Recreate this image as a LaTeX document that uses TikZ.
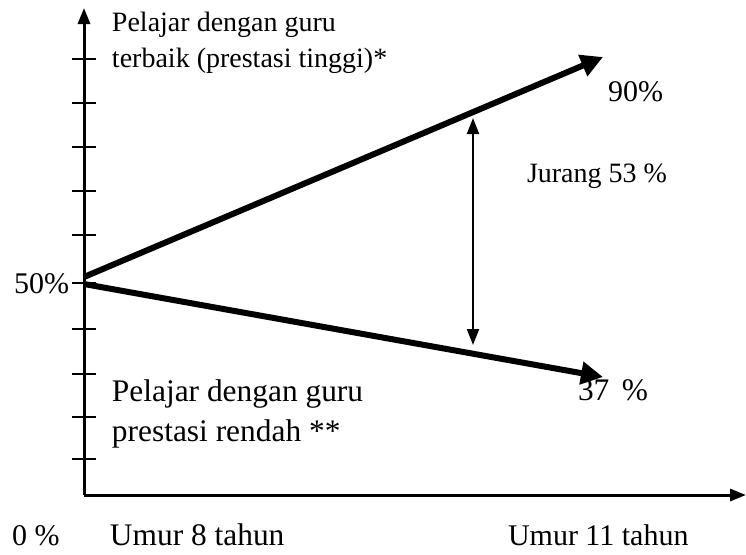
\documentclass[tikz,border=0pt]{standalone}
\usepackage{fontspec}
\setmainfont{Liberation Serif}
\usetikzlibrary{arrows.meta}
\begin{document}
\begin{tikzpicture}[x=0.5pt,y=-0.5pt,
  lbl/.style={inner sep=0pt,outer sep=0pt,font=\fontsize{15}{18}\selectfont},
  small/.style={font=\fontsize{14}{17}\selectfont},
  large/.style={font=\fontsize{15.7}{19}\selectfont},
  axis/.style={line width=1.5pt,-{Triangle[length=8pt,width=6pt]}},
  tick/.style={line width=1pt},
  trend/.style={line width=3pt,-{Triangle[length=11pt,width=11pt]}},
  gap/.style={line width=1pt,{Triangle[length=8pt,width=6pt]}-{Triangle[length=8pt,width=6pt]}}]
\useasboundingbox (0,0) rectangle (746,554);
% axes
\coordinate (O) at (84,495);
\coordinate (ytop) at (84,8);
\coordinate (xend) at (746,495);
\draw[axis] (O) -- (ytop);
\draw[axis] (O) -- (xend);
% ticks on the vertical axis
\foreach \ty in {59,103,147,191,235,283,329,374,417,459}
  \draw[tick] (72,\ty) -- (96,\ty);
% trend lines
\coordinate (hs) at (84,277);
\coordinate (he) at (603,57);
\coordinate (ls) at (84,284);
\coordinate (le) at (603,377);
\draw[trend] (hs) -- (he);
\draw[trend] (ls) -- (le);
% gap arrow
\coordinate (ga) at (473,118);
\coordinate (gb) at (473,345);
\draw[gap] (ga) -- (gb);
% labels
\node[lbl,small,anchor=base west] (t1) at (112,31) {Pelajar dengan guru};
\node[lbl,small,anchor=base west] (t2) at (112,67) {terbaik (prestasi tinggi)*};
\node[lbl,anchor=base west] (p90) at (608,101) {90\%};
\node[lbl,small,anchor=base west] (jur) at (527,182) {Jurang 53 \%};
\node[lbl,anchor=base east] (p50) at (69,293) {50\%};
\node[lbl,large,anchor=base west] (b1) at (112,401) {Pelajar dengan guru};
\node[lbl,large,anchor=base west] (b2) at (112,441) {prestasi rendah **};
\node[lbl,large,anchor=base west] (p37) at (578,400) {37\hspace{0.4em}\%};
\node[lbl,anchor=base west] (p0) at (12,545) {0 \%};
\node[lbl,large,anchor=base west] (u8) at (110,545) {Umur 8 tahun};
\node[lbl,anchor=base west] (u11) at (508,545) {Umur 11 tahun};
\end{tikzpicture}
\end{document}
